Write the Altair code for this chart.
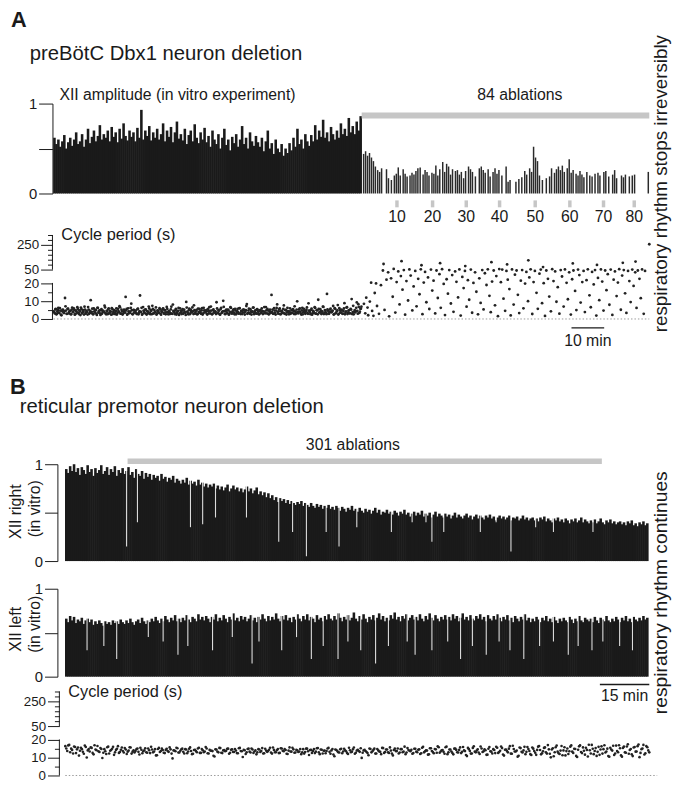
import altair as alt
import pandas as pd

FONT = "Liberation Sans"
INK = "#1a1a1a"
GRAY_BAR = "#c6c6c6"
OX, OY = 54, 14          # page position of the canvas origin (8px margin + padding)


def px(x):
    return x - OX


def py(y):
    return y - OY


# ---------------- Panel A data ----------------
A_domain_min = [0, 182]
A_ablation_span = [94.3, 182.3]
A_pre_amp = [
    0.62, 0.55, 0.60, 0.52, 0.58, 0.65, 0.50, 0.57, 0.62, 0.53, 0.60, 0.68, 0.55,
    0.58, 0.66, 0.52, 0.60, 0.72, 0.56, 0.63, 0.70, 0.58, 0.64, 0.76, 0.60, 0.66,
    0.62, 0.70, 0.58, 0.74, 0.63, 0.68, 0.57, 0.72, 0.61, 0.78, 0.64, 0.59, 0.70,
    0.63, 0.68, 0.58, 0.73, 0.62, 0.93, 0.60, 0.70, 0.64, 0.75, 0.59, 0.68, 0.62,
    0.72, 0.60, 0.66, 0.78, 0.58, 0.70, 0.63, 0.74, 0.57, 0.68, 0.80, 0.61, 0.66,
    0.59, 0.72, 0.55, 0.65, 0.70, 0.58, 0.77, 0.62, 0.56, 0.68, 0.60, 0.73, 0.57,
    0.64, 0.52, 0.70, 0.60, 0.55, 0.66, 0.50, 0.62, 0.72, 0.54, 0.60, 0.48, 0.63,
    0.56, 0.66, 0.52, 0.60, 0.75, 0.55, 0.62, 0.50, 0.68, 0.58, 0.53, 0.64, 0.57,
    0.52, 0.62, 0.47, 0.58, 0.70, 0.50, 0.56, 0.44, 0.60, 0.50, 0.46, 0.55, 0.42,
    0.50, 0.45, 0.56, 0.48, 0.62, 0.52, 0.72, 0.55, 0.60, 0.50, 0.66, 0.58, 0.53,
    0.65, 0.58, 0.76, 0.60, 0.70, 0.63, 0.82, 0.62, 0.68, 0.58, 0.74, 0.66, 0.60,
    0.70, 0.62, 0.78, 0.66, 0.72, 0.64, 0.84, 0.68, 0.75, 0.66, 0.80, 0.70, 0.86,
]
A_post_t = [
    94.9, 95.5, 96.1, 96.7, 97.3, 97.9, 98.5, 99.2, 99.8, 100.4, 101.9, 102.5, 103.4,
    104.3, 104.9, 105.5, 106.1, 107.0, 107.6, 108.2, 109.1, 109.7, 110.3, 110.9, 111.5,
    112.2, 113.1, 113.7, 114.3, 114.9, 115.8, 116.4, 117.0, 117.6, 118.2, 119.1, 119.7,
    120.3, 120.9, 121.5, 122.1, 123.0, 123.6, 124.2, 124.8, 125.5, 126.1, 127.0, 127.6,
    128.2, 129.1, 130.3, 130.9, 131.5, 132.1, 133.0, 133.6, 134.5, 135.1, 135.7, 136.3,
    137.2, 138.5, 139.1, 139.7, 141.5, 142.4, 143.3, 144.2, 144.8, 145.7, 146.3, 146.9,
    147.5, 148.1, 148.7, 149.6, 150.8, 151.8, 152.4, 153.3, 153.9, 154.5, 155.1, 155.7,
    156.3, 157.2, 157.8, 158.4, 159.0, 159.9, 160.5, 161.1, 161.7, 162.3, 163.2, 164.1,
    164.8, 165.7, 166.6, 167.2, 168.4, 169.0, 169.9, 171.1, 171.7, 172.3, 173.8, 174.4,
    175.0, 176.2, 177.1, 177.8, 182.0,
]
A_post_amp = [
    0.44, 0.47, 0.42, 0.45, 0.40, 0.36, 0.30, 0.26, 0.24, 0.28, 0.27, 0.17, 0.15,
    0.20, 0.22, 0.29, 0.20, 0.27, 0.22, 0.19, 0.20, 0.23, 0.21, 0.25, 0.28,
    0.29, 0.21, 0.26, 0.24, 0.20, 0.23, 0.22, 0.31, 0.20, 0.27, 0.35, 0.24,
    0.33, 0.30, 0.21, 0.27, 0.25, 0.26, 0.21, 0.24, 0.17, 0.25, 0.30, 0.27,
    0.24, 0.19, 0.28, 0.30, 0.26, 0.23, 0.27, 0.19, 0.24, 0.28, 0.22, 0.26,
    0.20, 0.30, 0.13, 0.15, 0.13, 0.16, 0.18, 0.25, 0.21, 0.28, 0.24, 0.52,
    0.40, 0.36, 0.20, 0.15, 0.17, 0.19, 0.28, 0.23, 0.27, 0.30, 0.26, 0.31,
    0.24, 0.28, 0.38, 0.23, 0.26, 0.22, 0.20, 0.25, 0.21, 0.18, 0.24, 0.20,
    0.19, 0.22, 0.23, 0.20, 0.24, 0.25, 0.19, 0.21, 0.26, 0.17, 0.20, 0.18,
    0.21, 0.19, 0.20, 0.21, 0.24,
]
A_ablation_tick_t = [105.1, 116.0, 126.3, 136.5, 147.4, 158.0, 168.3, 177.7]
A_ablation_tick_lab = ["10", "20", "30", "40", "50", "60", "70", "80"]

A_pre_period = [
    4.2, 3.1, 5.6, 2.8, 4.9, 3.6, 6.1, 2.4, 4.4, 5.2, 3.3, 11.8, 4.7, 2.9, 5.8, 3.9, 4.5, 2.6, 6.4, 3.8,
    5.1, 2.7, 4.3, 6.6, 3.4, 4.8, 2.2, 5.5, 3.7, 4.1, 6.9, 3.0, 4.6, 2.5, 5.3, 3.5, 10.6, 4.0, 2.8, 5.9,
    3.6, 4.9, 2.3, 6.2, 4.4, 3.2, 5.0, 2.9, 4.7, 3.8, 6.5, 2.6, 4.2, 5.4, 3.1, 4.6, 2.4, 5.7, 3.9, 4.8,
    2.7, 6.0, 3.4, 4.5, 7.2, 3.0, 5.2, 2.5, 4.1, 3.7, 12.4, 5.6, 2.9, 4.3, 3.3, 6.3, 4.9, 2.6, 5.1, 3.6,
    4.7, 2.8, 5.8, 3.5, 13.2, 4.0, 2.4, 6.7, 3.9, 5.3, 2.9, 4.4, 3.2, 5.9, 2.7, 4.6, 7.4, 3.1, 5.0, 3.8,
    2.5, 4.8, 3.6, 6.1, 2.9, 4.2, 5.5, 3.3, 4.9, 2.6, 6.8, 3.7, 4.5, 2.8, 5.4, 3.0, 8.1, 4.3, 2.7, 5.7,
    3.4, 4.6, 2.3, 6.0, 3.9, 4.7, 2.9, 5.2, 3.5, 9.6, 4.1, 2.6, 5.8, 3.2, 4.4, 6.5, 2.8, 4.9, 3.6, 5.1,
    2.7, 4.0, 5.6, 3.3, 4.8, 2.5, 6.3, 3.8, 4.2, 2.9, 5.5, 3.1, 4.6, 7.0, 2.6, 5.0, 3.7, 4.3, 2.8, 5.9,
    3.5, 4.7, 2.4, 6.2, 3.9, 10.2, 4.4, 2.7, 5.3, 3.2, 4.9, 2.9, 6.6, 3.6, 4.1, 5.4, 2.6, 4.8, 3.4, 5.7,
    3.0, 6.1, 2.8, 4.5, 3.7, 5.2, 2.5, 4.9, 8.4, 3.3, 5.8, 2.9, 4.2, 3.8, 6.4, 2.7, 4.6, 3.1, 5.5, 4.0,
    2.6, 5.0, 3.6, 4.4, 2.9, 6.7, 3.2, 4.8, 5.6, 2.8, 4.1, 3.5, 13.5, 5.3, 3.0, 4.7, 2.5, 6.2, 3.9, 4.3,
    5.9, 2.7, 4.6, 3.4, 7.6, 2.9, 5.1, 3.7, 4.4, 2.6, 6.0, 3.3, 4.9, 5.5, 2.8, 4.2, 3.6, 9.9, 3.1, 5.4,
    4.0, 2.5, 6.3, 3.8, 4.7, 2.9, 5.2, 3.4, 8.8, 4.5, 2.7, 5.8, 3.2, 4.1, 6.6, 3.0, 4.9, 2.6, 5.6, 3.9,
    4.4, 3.1, 6.9, 2.8, 5.0, 3.6, 14.1, 4.6, 2.9, 5.3, 3.8, 4.2, 7.3, 2.7, 5.7, 3.3, 4.8, 2.5, 6.1, 3.7,
    5.2, 2.9, 4.5, 8.9, 3.5, 6.4, 2.8, 4.7, 3.2, 5.6, 11.2, 3.9, 2.6, 5.0, 4.3, 9.3, 3.0, 6.8, 4.1, 5.8,
]
A_pre_period_b = [
    3.8, 5.4, 2.6, 4.1, 6.2, 3.3, 4.7, 2.1, 5.0, 3.6, 4.4, 7.1, 2.9, 5.7, 3.2, 4.6, 2.7, 5.2, 3.9, 6.0,
    2.4, 4.8, 3.5, 5.6, 2.8, 4.2, 6.4, 3.1, 4.9, 2.5, 5.3, 3.7, 4.0, 6.7, 2.9, 4.5, 3.4, 5.8, 2.6, 4.3,
    5.1, 3.0, 6.3, 3.6, 4.8, 2.3, 5.5, 3.9, 4.2, 7.5, 3.2, 4.6, 2.7, 5.9, 3.5, 4.0, 6.1, 2.8, 4.9, 3.3,
    4.5, 2.5, 5.7, 3.8, 6.6, 3.0, 4.3, 2.9, 5.2, 3.6, 4.8, 2.4, 6.0, 3.4, 4.1, 8.6, 2.8, 5.0, 3.7, 4.6,
    3.1, 5.5, 2.6, 4.4, 3.9, 6.3, 2.9, 4.7, 3.3, 5.4, 2.5, 4.2, 7.0, 3.6, 4.9, 2.7, 5.6, 3.2, 4.0, 6.5,
    2.8, 4.6, 3.5, 5.3, 2.4, 4.1, 6.0, 3.0, 4.8, 3.7, 5.7, 2.6, 4.3, 3.3, 6.9, 2.9, 4.5, 3.8, 5.1, 2.5,
    4.4, 6.2, 3.1, 4.7, 2.8, 5.5, 3.6, 4.0, 2.3, 6.4, 3.4, 4.9, 2.7, 5.2, 3.9, 4.3, 7.7, 3.0, 4.6, 2.6,
    5.8, 3.5, 4.2, 2.9, 6.1, 3.2, 4.8, 3.8, 5.0, 2.5, 4.4, 6.6, 3.1, 4.7, 2.8, 5.4, 3.6, 4.1, 9.4, 3.3,
    4.9, 2.7, 5.6, 3.4, 4.3, 6.8, 2.9, 4.6, 3.7, 5.2, 2.4, 4.0, 6.2, 3.0, 4.8, 3.5, 5.7, 2.6, 4.4, 3.9,
    6.0, 3.2, 4.5, 2.8, 5.3, 3.6, 4.1, 7.3, 2.9, 4.7, 3.3, 5.5, 2.5, 4.2, 6.4, 3.8, 4.9, 3.0, 5.1, 2.7,
    4.6, 3.4, 5.9, 2.8, 4.3, 3.7, 6.7, 3.1, 4.8, 2.6, 5.2, 3.5, 4.0, 2.9, 6.1, 3.3, 4.7, 8.2, 3.0, 5.4,
    2.7, 4.4, 3.8, 5.6, 3.1, 4.9, 2.5, 6.3, 3.6, 4.2, 2.9, 5.0, 3.4, 4.6, 7.1, 2.8, 5.3, 3.9, 4.1, 6.0,
    3.2, 4.8, 2.6, 5.7, 3.5, 4.3, 6.5, 2.9, 4.7, 3.7, 5.1, 2.4, 4.5, 3.3, 6.2, 3.0, 4.9, 10.8, 3.6, 5.5,
    2.8, 4.2, 6.8, 3.4, 4.6, 2.7, 5.4, 3.1, 4.0, 5.8, 3.8, 4.7, 2.5, 6.1, 3.3, 4.4, 7.8, 2.9, 5.0, 3.6,
    4.8, 3.0, 5.9, 2.6, 4.3, 6.6, 3.5, 4.9, 3.2, 5.3, 2.8, 7.4, 4.1, 3.7, 6.3, 4.6, 8.3, 3.4, 5.7, 6.9,
]
A_post_period_t = [
    95.0, 95.4, 95.7, 96.1, 96.3, 96.8, 97.2, 97.5, 97.9, 98.3, 98.7, 99.0, 99.6, 100.2, 100.8,
    101.3, 101.9, 102.4, 102.7, 103.3, 103.8, 104.1, 104.6, 105.0, 105.5, 105.9, 106.3, 106.8,
    107.2, 107.6, 108.0, 108.5, 108.9, 109.3, 109.8, 110.2, 110.7, 111.1, 111.6, 112.0, 112.4,
    112.9, 113.3, 113.7, 114.1, 114.6, 115.0, 115.5, 115.9, 116.3, 116.8, 117.2, 117.6, 118.1,
    118.5, 118.9, 119.4, 119.8, 120.3, 120.7, 121.1, 121.6, 122.0, 122.4, 122.9, 123.3, 123.8,
    124.2, 124.6, 125.1, 125.5, 125.9, 126.4, 126.8, 127.2, 127.7, 128.1, 128.5, 129.0, 129.4,
    129.9, 130.3, 130.7, 131.2, 131.6, 132.0, 132.5, 132.9, 133.4, 133.8, 134.2, 134.7, 135.1,
    135.5, 136.0, 136.4, 136.9, 137.3, 137.7, 138.2, 138.6, 139.0, 139.5, 139.9, 140.3, 140.8,
    141.2, 141.7, 142.1, 142.5, 143.0, 143.4, 143.8, 144.3, 144.7, 145.2, 145.6, 146.0, 146.5,
    146.9, 147.3, 147.8, 148.2, 148.7, 149.1, 149.5, 150.0, 150.4, 150.8, 151.3, 151.7, 152.2,
    152.6, 153.0, 153.5, 153.9, 154.3, 154.8, 155.2, 155.6, 156.1, 156.5, 157.0, 157.4, 157.8,
    158.3, 158.7, 159.1, 159.6, 160.0, 160.5, 160.9, 161.3, 161.8, 162.2, 162.6, 163.1, 163.5,
    164.0, 164.4, 164.8, 165.3, 165.7, 166.1, 166.6, 167.0, 167.5, 167.9, 168.3, 168.8, 169.2,
    169.6, 170.1, 170.5, 171.0, 171.4, 171.8, 172.3, 172.7, 173.1, 173.6, 174.0, 174.5, 174.9,
    175.3, 175.8, 176.2, 176.6, 177.1, 177.5, 178.0, 178.4, 178.8, 179.3, 179.7, 180.1, 180.6,
    181.0,
    101.0, 106.5, 112.6, 118.3, 126.0, 134.0, 138.8, 145.3, 149.8, 158.9, 166.3, 174.2, 178.1,
    182.3,
]
A_post_period = [
    8.5, 3.2, 12.0, 6.4, 2.1, 9.8, 21.5, 4.5, 1.8, 14.6, 20.0, 7.3, 2.9, 19.0, 48,
    5.1, 28, 44, 1.5, 31, 12.5, 55, 3.6, 23, 46, 8.2, 36, 16.5,
    49, 2.4, 25, 10.4, 51, 37, 4.8, 18.3, 47, 7.1, 30, 13.9, 52,
    2.7, 21.8, 45, 9.4, 33, 5.6, 50, 16.0, 26, 3.1, 48, 11.8, 40,
    6.3, 53, 19.7, 2.2, 29, 14.2, 49, 8.7, 38, 4.0, 46, 23.5, 12.1,
    51, 1.9, 34, 17.4, 47, 6.9, 27, 10.8, 50, 3.5, 21.0, 44, 15.3,
    2.6, 31, 9.0, 49, 5.4, 42, 19.1, 52, 13.0, 3.8, 24, 48, 7.7,
    36, 1.6, 54, 22.6, 50, 11.4, 4.6, 47, 28, 16.8, 2.0, 51, 8.1,
    39, 48, 13.6, 3.3, 26, 49, 6.0, 19.9, 45, 10.0, 33, 52, 2.8,
    23, 47, 14.7, 5.7, 41, 50, 8.9, 20.4, 1.7, 48, 30, 12.6, 4.3,
    53, 25, 46, 9.7, 17.9, 3.0, 49, 35, 7.0, 51, 21.2, 11.1, 44,
    2.5, 29, 48, 15.8, 5.0, 50, 38, 9.2, 22.9, 47, 3.9, 27, 52,
    13.3, 6.6, 45, 19.4, 49, 1.9, 32, 10.6, 51, 24, 4.7, 48, 16.2,
    40, 8.0, 50, 2.3, 28, 46, 12.9, 21.7, 53, 5.2, 37, 49, 14.4,
    3.4, 47, 25, 9.5, 50, 18.6, 44, 6.2, 48, 30, 11.7, 51, 2.9,
    47,
    95, 118, 85, 102, 78, 110, 92, 125, 70, 100, 88, 105, 115,
    255,
]

# ---------------- Panel B data ----------------
B_domain_min = [0, 177]
B_ablation_span = [18.9, 162.9]
B_right_amp = [
    0.95, 0.91, 0.98, 0.93, 1.00, 0.92, 0.96, 0.89, 0.97, 0.94, 0.90, 0.99, 0.92, 0.95, 0.88,
    0.96, 0.91, 0.94, 0.99, 0.90, 0.93, 0.97, 0.89, 0.95, 0.92, 0.98, 0.88, 0.94, 0.91, 0.96,
    0.90, 0.93, 0.97, 0.89, 0.92, 0.86, 0.95, 0.90, 0.88, 0.93, 0.85, 0.91, 0.87, 0.90, 0.84,
    0.89, 0.86, 0.88, 0.83, 0.90, 0.85, 0.87, 0.82, 0.86, 0.84, 0.88, 0.81, 0.85, 0.83, 0.80,
    0.84, 0.81, 0.86, 0.79, 0.83, 0.80, 0.82, 0.78, 0.84, 0.79, 0.81, 0.77, 0.80, 0.76, 0.79,
    0.77, 0.80, 0.75, 0.78, 0.74, 0.77, 0.73, 0.76, 0.79, 0.72, 0.75, 0.78, 0.74, 0.76, 0.72,
    0.75, 0.71, 0.74, 0.77, 0.72, 0.75, 0.70, 0.73, 0.76, 0.69, 0.72, 0.68, 0.71, 0.66, 0.70,
    0.65, 0.68, 0.63, 0.66, 0.61, 0.65, 0.62, 0.64, 0.60, 0.63, 0.59, 0.62, 0.60, 0.58, 0.61,
    0.59, 0.62, 0.57, 0.60, 0.58, 0.56, 0.60, 0.57, 0.55, 0.59, 0.56, 0.58, 0.54, 0.57, 0.55,
    0.58, 0.54, 0.56, 0.53, 0.57, 0.55, 0.52, 0.56, 0.54, 0.51, 0.55, 0.53, 0.57, 0.52, 0.54,
    0.51, 0.55, 0.52, 0.50, 0.54, 0.51, 0.53, 0.49, 0.52, 0.55, 0.50, 0.53, 0.48, 0.51, 0.50,
    0.53, 0.49, 0.51, 0.48, 0.52, 0.50, 0.47, 0.51, 0.49, 0.53, 0.48, 0.50, 0.46, 0.49, 0.51,
    0.47, 0.50, 0.48, 0.52, 0.46, 0.49, 0.47, 0.50, 0.45, 0.48, 0.51, 0.46, 0.49, 0.47, 0.45,
    0.49, 0.46, 0.48, 0.44, 0.47, 0.50, 0.45, 0.48, 0.46, 0.44, 0.47, 0.49, 0.45, 0.47, 0.43,
    0.46, 0.48, 0.44, 0.47, 0.45, 0.43, 0.47, 0.45, 0.48, 0.44, 0.46, 0.42, 0.45, 0.47, 0.44,
    0.46, 0.43, 0.45, 0.47, 0.42, 0.45, 0.44, 0.46, 0.42, 0.44, 0.47, 0.43, 0.45, 0.42, 0.44,
    0.45, 0.42, 0.44, 0.41, 0.45, 0.43, 0.46, 0.41, 0.44, 0.42, 0.40, 0.44, 0.42, 0.45, 0.41,
    0.43, 0.40, 0.44, 0.42, 0.39, 0.43, 0.41, 0.44, 0.40, 0.42, 0.45, 0.40, 0.43, 0.41, 0.39,
    0.42, 0.40, 0.43, 0.39, 0.41, 0.44, 0.40, 0.38, 0.42, 0.40, 0.43, 0.39, 0.41, 0.38, 0.40,
    0.41, 0.38, 0.40, 0.37, 0.41, 0.39, 0.42, 0.37, 0.39, 0.36, 0.40, 0.38, 0.41, 0.37, 0.39,
]
# weak single cycles (thin gaps in the dense trace)
B_right_dip_t = [18.6, 21.9, 38.0, 41.7, 45.6, 55.0, 64.8, 69.0, 73.2, 79.2, 83.1, 88.5,
                 99.0, 105.3, 109.5, 111.3, 114.9, 126.0, 130.8, 135.3, 142.8, 148.2, 160.2]
B_right_dip_amp = [0.15, 0.40, 0.35, 0.38, 0.45, 0.45, 0.20, 0.30, 0.05, 0.30, 0.15, 0.35,
                   0.30, 0.40, 0.40, 0.20, 0.30, 0.30, 0.40, 0.10, 0.35, 0.30, 0.30]
B_left_amp = [
    0.66, 0.62, 0.69, 0.64, 0.68, 0.61, 0.65, 0.63, 0.67, 0.60, 0.64, 0.66, 0.62, 0.65, 0.59,
    0.63, 0.60, 0.64, 0.61, 0.58, 0.63, 0.60, 0.62, 0.59, 0.64, 0.61, 0.63, 0.60, 0.65, 0.62,
    0.60, 0.64, 0.61, 0.66, 0.62, 0.59, 0.63, 0.65, 0.61, 0.67, 0.63, 0.60, 0.64, 0.62, 0.66,
    0.63, 0.68, 0.64, 0.61, 0.66, 0.63, 0.69, 0.65, 0.62, 0.67, 0.64, 0.70, 0.63, 0.66, 0.62,
    0.67, 0.64, 0.70, 0.65, 0.62, 0.68, 0.66, 0.63, 0.71, 0.65, 0.68, 0.64, 0.69, 0.66, 0.62,
    0.68, 0.65, 0.71, 0.63, 0.67, 0.64, 0.70, 0.66, 0.62, 0.68, 0.65, 0.72, 0.64, 0.67, 0.63,
    0.69, 0.65, 0.68, 0.63, 0.66, 0.70, 0.64, 0.67, 0.62, 0.68, 0.65, 0.71, 0.66, 0.63, 0.69,
    0.64, 0.68, 0.65, 0.72, 0.66, 0.63, 0.69, 0.65, 0.70, 0.64, 0.67, 0.62, 0.68, 0.65, 0.71,
    0.66, 0.63, 0.69, 0.65, 0.71, 0.64, 0.68, 0.66, 0.62, 0.70, 0.65, 0.67, 0.63, 0.69, 0.65,
    0.71, 0.66, 0.64, 0.69, 0.65, 0.72, 0.67, 0.63, 0.68, 0.65, 0.70, 0.64, 0.67, 0.73, 0.66,
    0.63, 0.69, 0.65, 0.71, 0.66, 0.62, 0.68, 0.65, 0.70, 0.64, 0.67, 0.72, 0.65, 0.69, 0.63,
    0.67, 0.64, 0.70, 0.66, 0.73, 0.65, 0.68, 0.63, 0.69, 0.66, 0.71, 0.64, 0.67, 0.70, 0.65,
    0.68, 0.64, 0.71, 0.66, 0.63, 0.69, 0.65, 0.72, 0.67, 0.64, 0.70, 0.66, 0.63, 0.68, 0.65,
    0.70, 0.65, 0.68, 0.64, 0.71, 0.66, 0.69, 0.63, 0.67, 0.72, 0.65, 0.68, 0.64, 0.70, 0.66,
    0.64, 0.69, 0.66, 0.71, 0.65, 0.68, 0.63, 0.70, 0.66, 0.64, 0.69, 0.65, 0.71, 0.67, 0.63,
    0.68, 0.65, 0.70, 0.64, 0.67, 0.62, 0.69, 0.66, 0.63, 0.68, 0.65, 0.71, 0.64, 0.67, 0.62,
    0.66, 0.63, 0.68, 0.65, 0.62, 0.67, 0.64, 0.69, 0.63, 0.66, 0.62, 0.68, 0.64, 0.61, 0.66,
    0.63, 0.67, 0.64, 0.62, 0.68, 0.65, 0.61, 0.66, 0.63, 0.69, 0.64, 0.62, 0.67, 0.65, 0.63,
    0.66, 0.62, 0.68, 0.64, 0.61, 0.67, 0.65, 0.63, 0.69, 0.64, 0.62, 0.66, 0.63, 0.68, 0.65,
    0.62, 0.67, 0.64, 0.69, 0.63, 0.66, 0.62, 0.68, 0.65, 0.63, 0.67, 0.64, 0.69, 0.65, 0.67,
]
B_left_dip_t = [6.6, 11.7, 15.6, 25.2, 29.7, 34.2, 37.2, 44.7, 50.7, 56.7, 58.8, 65.7, 70.2,
                74.7, 78.3, 82.8, 85.8, 89.7, 94.2, 98.1, 103.8, 106.2, 111.3, 116.1, 120.0,
                123.6, 127.8, 131.7, 135.0, 139.2, 144.0, 148.2, 152.7, 155.7, 159.9, 163.2,
                168.3, 172.2]
B_left_dip_amp = [0.30, 0.35, 0.20, 0.45, 0.40, 0.25, 0.35, 0.30, 0.45, 0.15, 0.40, 0.30, 0.45,
                  0.20, 0.35, 0.20, 0.40, 0.30, 0.15, 0.35, 0.40, 0.25, 0.30, 0.40, 0.20,
                  0.35, 0.25, 0.40, 0.30, 0.20, 0.35, 0.40, 0.25, 0.35, 0.30, 0.40,
                  0.35, 0.30]
B_period = [
    16.5, 13.8, 17.2, 15.1, 12.4, 16.0, 14.7, 11.2, 15.6, 13.3, 16.8, 10.1, 14.9, 15.8, 12.7, 17.0, 14.2, 13.6, 15.4, 9.8,
    14.8, 12.1, 16.2, 13.9, 15.0, 11.6, 14.4, 16.5, 13.2, 15.7, 12.9, 14.6, 13.4, 15.9, 12.3, 14.1, 13.7, 15.2, 11.8, 14.5,
    13.6, 15.3, 12.8, 14.2, 16.1, 13.0, 14.8, 11.4, 15.5, 13.8, 14.3, 12.6, 15.0, 13.3, 14.7, 9.6, 14.0, 15.6, 12.9, 13.9,
    15.1, 12.4, 14.6, 13.5, 15.8, 12.0, 14.3, 13.7, 15.2, 12.7, 14.9, 13.1, 16.0, 12.5, 14.4, 13.9, 11.1, 14.7, 13.4, 15.5,
    12.8, 14.1, 13.6, 15.0, 12.2, 14.5, 13.3, 14.9, 12.6, 15.3, 13.8, 10.4, 14.2, 13.0, 15.1, 12.9, 14.6, 13.5, 11.9, 14.8,
    13.2, 15.4, 12.5, 14.0, 13.7, 15.6, 12.3, 14.4, 13.1, 14.9, 12.7, 15.2, 13.6, 14.3, 12.1, 15.8, 13.4, 14.7, 12.9, 14.1,
    13.5, 12.0, 14.8, 13.2, 15.1, 11.5, 14.4, 13.8, 12.6, 15.3, 13.0, 14.6, 12.4, 14.0, 13.7, 15.5, 12.2, 14.9, 10.8, 14.3,
    13.1, 14.7, 12.5, 15.0, 13.6, 12.1, 14.2, 13.4, 15.7, 12.8, 14.5, 13.3, 9.9, 14.1, 13.8, 12.6, 15.2, 13.0, 14.4, 12.3,
    14.9, 13.5, 12.0, 15.4, 13.2, 14.6, 12.7, 14.0, 11.3, 15.1, 13.7, 12.4, 14.8, 13.1, 16.2, 12.9, 14.3, 13.6, 12.2, 15.0,
    13.4, 14.5, 12.1, 15.6, 13.0, 14.2, 11.7, 15.3, 13.8, 12.5, 14.7, 16.4, 12.8, 14.1, 13.3, 15.9, 12.0, 14.6, 13.5, 11.9,
    15.2, 13.1, 14.4, 12.6, 16.0, 13.7, 10.9, 14.8, 12.3, 15.5, 13.4, 14.0, 12.9, 16.3, 13.2, 14.7, 11.6, 15.0, 13.6, 12.4,
    14.3, 16.1, 12.7, 13.9, 15.4, 11.2, 14.6, 13.0, 16.5, 12.2, 14.9, 13.5, 10.6, 15.7, 13.3, 14.1, 12.0, 16.0, 13.8, 11.5,
    15.1, 12.8, 14.4, 16.6, 11.9, 13.6, 15.8, 12.3, 14.7, 10.2, 15.3, 13.1, 16.8, 12.5, 14.0, 11.4, 15.9, 13.7, 12.1, 16.2,
    13.4, 15.0, 11.0, 14.5, 16.9, 12.6, 13.9, 15.6, 10.7, 14.2, 17.2, 12.0, 15.4, 13.3, 11.6, 16.4, 14.8, 12.9, 15.1, 10.5,
    14.6, 16.7, 12.4, 13.8, 17.0, 11.3, 15.5, 13.0, 16.3, 12.2, 14.9, 10.9, 16.0, 13.5, 17.4, 12.7, 15.2, 11.8, 16.5, 14.1,
]
B_period_b = [
    15.2, 16.9, 13.1, 14.4, 16.3, 12.6, 15.7, 13.9, 14.8, 12.2, 16.0, 14.1, 13.5, 15.5, 11.9, 14.6, 16.6, 13.2, 14.9, 12.8,
    13.6, 15.9, 12.4, 14.3, 16.1, 13.0, 15.0, 12.7, 14.5, 13.8, 15.4, 12.1, 14.0, 15.7, 13.4, 12.9, 14.8, 13.3, 15.6, 12.5,
    14.2, 13.1, 15.2, 12.6, 14.6, 13.5, 11.3, 14.9, 13.2, 15.1, 12.8, 14.4, 13.7, 15.8, 12.3, 14.1, 13.6, 15.3, 12.9, 14.7,
    13.3, 14.8, 12.5, 15.0, 13.8, 12.2, 14.5, 13.1, 15.6, 12.7, 14.2, 13.5, 15.2, 12.4, 14.0, 13.7, 10.7, 14.6, 13.0, 15.4,
    12.6, 14.3, 13.9, 15.1, 12.8, 14.7, 13.2, 14.0, 12.5, 15.5, 13.6, 14.4, 12.1, 14.9, 13.4, 15.2, 12.7, 14.1, 13.0, 14.6,
    13.8, 12.4, 15.0, 13.3, 14.5, 12.9, 15.7, 13.1, 14.2, 12.6, 15.3, 13.9, 14.8, 12.2, 14.0, 13.5, 15.6, 12.8, 14.4, 13.2,
    14.9, 13.0, 12.3, 15.1, 13.6, 14.3, 12.7, 14.8, 13.4, 15.4, 12.0, 14.5, 13.9, 12.5, 15.2, 13.3, 14.1, 11.8, 14.6, 13.7,
    12.9, 15.0, 13.5, 14.2, 12.6, 15.6, 13.1, 14.7, 12.2, 14.0, 13.8, 15.3, 12.8, 14.4, 13.2, 11.4, 14.9, 13.6, 15.1, 12.4,
    14.1, 13.3, 15.5, 12.7, 14.6, 13.0, 15.8, 12.3, 14.3, 13.7, 15.2, 12.9, 14.8, 13.4, 12.0, 15.4, 13.9, 14.5, 12.6, 15.0,
    13.1, 14.7, 12.5, 16.1, 13.6, 14.0, 11.9, 15.3, 13.2, 14.9, 12.8, 15.9, 13.5, 14.3, 12.2, 16.2, 13.0, 14.6, 12.7, 15.1,
    14.4, 12.9, 15.8, 13.3, 14.1, 11.5, 15.5, 13.8, 12.4, 16.4, 13.0, 14.7, 12.1, 15.2, 13.6, 14.2, 11.7, 16.0, 13.4, 14.8,
    12.6, 15.6, 13.2, 16.3, 11.8, 14.5, 13.7, 15.1, 12.3, 16.7, 13.5, 14.0, 11.1, 15.4, 12.9, 16.1, 13.3, 14.9, 12.0, 15.7,
    13.8, 11.6, 16.2, 14.3, 12.5, 15.5, 13.0, 17.1, 12.2, 14.6, 10.8, 15.9, 13.4, 12.1, 16.6, 14.1, 11.3, 15.2, 13.6, 16.9,
    12.7, 14.9, 10.4, 16.4, 13.2, 15.8, 11.7, 14.4, 17.3, 12.4, 15.0, 13.8, 11.0, 16.1, 14.6, 12.3, 17.0, 13.5, 10.9, 15.6,
    14.0, 11.5, 16.8, 13.1, 15.3, 10.6, 16.2, 12.8, 17.5, 14.3, 11.9, 15.7, 13.4, 16.5, 10.3, 14.8, 17.2, 12.5, 15.9, 13.0,
]

# cycle-period broken axis: tick values (s)
period_major = [0, 10, 20, 50, 250]
period_minor = [5, 15, 90, 130, 170, 210, 290, 330]
period_lower_seg = [0, 21]
period_upper_seg = [50, 330]


def disp(v):
    """broken-axis display coordinate (same rule as the Vega expression)"""
    if v <= 20:
        return v * 1.8
    if v <= 50:
        return 36 + (v - 20) * 14 / 30
    return 50 + (v - 50) * 0.125


def disp_expr(f):
    return (f"datum.{f} <= 20 ? datum.{f} * 1.8 : (datum.{f} <= 50 ? 36 + (datum.{f} - 20) * 14 / 30"
            f" : 50 + (datum.{f} - 50) * 0.125)")


# ---------------- tables ----------------
nA = len(A_pre_amp)
stepA = A_ablation_span[0] / nA
dfA_pre = pd.DataFrame({"t": [(i + 0.5) * stepA for i in range(nA)], "amp": A_pre_amp})
dfA_post = pd.DataFrame({"t": A_post_t, "amp": A_post_amp})
nP = len(A_pre_period)
stepP = A_ablation_span[0] / nP
dfA_per = pd.DataFrame({
    "t": [(i + 0.25) * stepP for i in range(nP)] + [(i + 0.75) * stepP for i in range(len(A_pre_period_b))]
         + A_post_period_t,
    "v": A_pre_period + A_pre_period_b + A_post_period,
})
nB = len(B_right_amp)
stepB = B_domain_min[1] / nB
dfB_r = pd.DataFrame({"t": [(i + 0.5) * stepB for i in range(nB)], "amp": B_right_amp})
dfB_l = pd.DataFrame({"t": [(i + 0.5) * stepB for i in range(len(B_left_amp))], "amp": B_left_amp})
dfB_rd = pd.DataFrame({"t": B_right_dip_t, "amp": B_right_dip_amp, "top": [1.0] * len(B_right_dip_t)})
dfB_ld = pd.DataFrame({"t": B_left_dip_t, "amp": B_left_dip_amp, "top": [1.0] * len(B_left_dip_t)})
nBp = len(B_period)
sBp = B_domain_min[1] / (nBp - 1)
dfB_per = pd.DataFrame({"t": [i * sBp for i in range(nBp)] + [(i + 0.5) * sBp for i in range(len(B_period_b))],
                        "v": B_period + B_period_b})
df_segs = pd.DataFrame({"v": [period_lower_seg[0], period_upper_seg[0]],
                        "v2": [period_lower_seg[1], period_upper_seg[1]]})

# ---------------- scales (pixel ranges inside one canvas) ----------------
xA = alt.Scale(domain=A_domain_min, range=[px(54), px(656)], nice=False)
xB = alt.Scale(domain=B_domain_min, range=[px(66), px(656)], nice=False)
yAamp = alt.Scale(domain=[0, 1], range=[py(191), py(100)], nice=False)
yAper = alt.Scale(domain=[0, 90], range=[py(318), py(228)], nice=False)
yBr = alt.Scale(domain=[0, 1], range=[py(563), py(465)], nice=False)
yBl = alt.Scale(domain=[0, 1], range=[py(680), py(591)], nice=False)
yBp = alt.Scale(domain=[0, 90], range=[py(780), py(690)], nice=False)

axis_style = dict(orient="left", grid=False, title=None, labelFont=FONT, labelColor=INK,
                  tickColor=INK, domainColor=INK, tickWidth=1, domainWidth=1, labelPadding=2)


def amp_axis(offset, ticksize):
    return alt.Axis(values=[0, 0.5, 1],
                    labelExpr="datum.value == 1 ? '1' : (datum.value == 0 ? '0' : '')",
                    tickSize=ticksize, offset=offset, labelFontSize=15, **axis_style)


major_expr = " : ".join(f"datum.value == {disp(v)} ? '{v}'" for v in period_major) + " : ''"


def per_major_axis(offset):
    return alt.Axis(values=[disp(v) for v in period_major], labelExpr=major_expr,
                    tickSize=12, domain=False, offset=offset, labelFontSize=13.5, **axis_style)


def per_minor_axis(offset):
    return alt.Axis(values=[disp(v) for v in period_minor], labels=False,
                    tickSize=5, domain=False, offset=offset, **axis_style)


def label(text, x, y, size=16, weight="normal", align="left", angle=0):
    return alt.Chart(pd.DataFrame({"label": [text]})).mark_text(
        font=FONT, fontSize=size, fontWeight=weight, align=align, baseline="middle",
        angle=angle, color=INK
    ).encode(x=alt.value(px(x)), y=alt.value(py(y)), text="label:N")


layers = []

# ===== Panel A : amplitude =====
layers.append(alt.Chart(dfA_pre).mark_rule(strokeWidth=2.6, color=INK).encode(
    x=alt.X("t:Q", scale=xA, axis=None),
    y=alt.Y("amp:Q", scale=yAamp, axis=amp_axis(1, 14)),
    y2=alt.datum(0)))
layers.append(alt.Chart(dfA_post).mark_rule(strokeWidth=1.5, color="#2a2a2a").encode(
    x=alt.X("t:Q", scale=xA, axis=None),
    y=alt.Y("amp:Q", scale=yAamp, axis=None),
    y2=alt.datum(0)))
layers.append(alt.Chart(pd.DataFrame({"t": [A_ablation_span[0]], "t2": [A_ablation_span[1]], "a": [0.867]}))
              .mark_rule(strokeWidth=6, color=GRAY_BAR).encode(
    x=alt.X("t:Q", scale=xA, axis=None), x2="t2:Q",
    y=alt.Y("a:Q", scale=yAamp, axis=None)))
df_abl = pd.DataFrame({"t": A_ablation_tick_t, "lab": A_ablation_tick_lab})
layers.append(alt.Chart(df_abl).mark_rule(strokeWidth=3.5, color=GRAY_BAR).encode(
    x=alt.X("t:Q", scale=xA, axis=None), y=alt.value(py(198)), y2=alt.value(py(205))))
layers.append(alt.Chart(df_abl).mark_text(font=FONT, fontSize=16, color=INK, baseline="middle").encode(
    x=alt.X("t:Q", scale=xA, axis=None), y=alt.value(py(215)), text="lab:N"))

# ===== Panel A : cycle period =====
layers.append(alt.Chart(dfA_per).transform_calculate(d=disp_expr("v")).mark_circle(
    size=8, color="#222222", opacity=1).encode(
    x=alt.X("t:Q", scale=xA, axis=None),
    y=alt.Y("d:Q", scale=yAper, axis=per_major_axis(1))))
layers.append(alt.Chart(pd.DataFrame({"t": [0], "t2": [182.3], "d": [0]}))
              .mark_rule(strokeDash=[1.5, 2], color="#9a9a9a", strokeWidth=1).encode(
    x=alt.X("t:Q", scale=xA, axis=None), x2="t2:Q",
    y=alt.Y("d:Q", scale=yAper, axis=per_minor_axis(1))))
layers.append(alt.Chart(df_segs).transform_calculate(d=disp_expr("v"), d2=disp_expr("v2"))
              .mark_rule(color=INK, strokeWidth=1).encode(
    x=alt.value(px(53)), y=alt.Y("d:Q", scale=yAper, axis=None), y2="d2:Q"))
layers.append(alt.Chart(pd.DataFrame({"t": [158.5], "t2": [168.5]})).mark_rule(strokeWidth=1.5, color=INK).encode(
    x=alt.X("t:Q", scale=xA, axis=None), x2="t2:Q", y=alt.value(py(327))))
layers.append(alt.Chart(pd.DataFrame({"t": [163.5], "lab": ["10 min"]})).mark_text(
    font=FONT, fontSize=16, color=INK, baseline="middle").encode(
    x=alt.X("t:Q", scale=xA, axis=None), y=alt.value(py(340)), text="lab:N"))

# ===== Panel B : XII right =====
layers.append(alt.Chart(dfB_r).mark_rule(strokeWidth=2.6, color=INK).encode(
    x=alt.X("t:Q", scale=xB, axis=None),
    y=alt.Y("amp:Q", scale=yBr, axis=amp_axis(-4, 13)),
    y2=alt.datum(0)))
layers.append(alt.Chart(dfB_rd).mark_rule(strokeWidth=1.1, color="#ffffff", opacity=0.85).encode(
    x=alt.X("t:Q", scale=xB, axis=None),
    y=alt.Y("amp:Q", scale=yBr, axis=None), y2="top:Q"))
layers.append(alt.Chart(pd.DataFrame({"t": [B_ablation_span[0]], "t2": [B_ablation_span[1]], "a": [1.03]}))
              .mark_rule(strokeWidth=5.5, color=GRAY_BAR).encode(
    x=alt.X("t:Q", scale=xB, axis=None), x2="t2:Q",
    y=alt.Y("a:Q", scale=yBr, axis=None)))

# ===== Panel B : XII left =====
layers.append(alt.Chart(dfB_l).mark_rule(strokeWidth=2.6, color=INK).encode(
    x=alt.X("t:Q", scale=xB, axis=None),
    y=alt.Y("amp:Q", scale=yBl, axis=amp_axis(-4, 13)),
    y2=alt.datum(0)))
layers.append(alt.Chart(dfB_ld).mark_rule(strokeWidth=1.1, color="#ffffff", opacity=0.85).encode(
    x=alt.X("t:Q", scale=xB, axis=None),
    y=alt.Y("amp:Q", scale=yBl, axis=None), y2="top:Q"))
layers.append(alt.Chart(pd.DataFrame({"t": [162.3], "t2": [177.3]})).mark_rule(strokeWidth=1.5, color=INK).encode(
    x=alt.X("t:Q", scale=xB, axis=None), x2="t2:Q", y=alt.value(py(688))))
layers.append(alt.Chart(pd.DataFrame({"t": [169.8], "lab": ["15 min"]})).mark_text(
    font=FONT, fontSize=16, color=INK, baseline="middle").encode(
    x=alt.X("t:Q", scale=xB, axis=None), y=alt.value(py(700)), text="lab:N"))

# ===== Panel B : cycle period =====
layers.append(alt.Chart(dfB_per).transform_calculate(d=disp_expr("v")).mark_circle(
    size=7, color="#222222", opacity=1).encode(
    x=alt.X("t:Q", scale=xB, axis=None),
    y=alt.Y("d:Q", scale=yBp, axis=per_major_axis(-6))))
layers.append(alt.Chart(pd.DataFrame({"t": [0], "t2": [179.7], "d": [0]}))
              .mark_rule(strokeDash=[1.5, 2], color="#9a9a9a", strokeWidth=1).encode(
    x=alt.X("t:Q", scale=xB, axis=None), x2="t2:Q",
    y=alt.Y("d:Q", scale=yBp, axis=per_minor_axis(-6))))
layers.append(alt.Chart(df_segs).transform_calculate(d=disp_expr("v"), d2=disp_expr("v2"))
              .mark_rule(color=INK, strokeWidth=1).encode(
    x=alt.value(px(60)), y=alt.Y("d:Q", scale=yBp, axis=None), y2="d2:Q"))

# ===== text =====
layers += [
    label("A", 11, 16, size=22, weight="bold"),
    label("preBötC Dbx1 neuron deletion", 30, 50, size=20.5),
    label("XII amplitude (in vitro experiment)", 60, 91, size=16),
    label("84 ablations", 526, 91, size=16, align="center"),
    label("Cycle period (s)", 62, 233, size=16.5),
    label("respiratory rhythm stops irreversibly", 669, 181, size=19, align="center", angle=270),
    label("B", 10, 387, size=22, weight="bold"),
    label("reticular premotor neuron deletion", 20, 407, size=20.5),
    label("301 ablations", 357, 446, size=16, align="center"),
    label("XII right", 16, 513, size=16, align="center", angle=270),
    label("(in vitro)", 35, 510, size=16, align="center", angle=270),
    label("XII left", 16, 632, size=16, align="center", angle=270),
    label("(in vitro)", 35, 627, size=16, align="center", angle=270),
    label("respiratory rhythm continues", 669, 595, size=19.5, align="center", angle=270),
    label("Cycle period (s)", 69, 696, size=16.5),
]

chart = alt.layer(*layers).resolve_scale(x="independent", y="independent").properties(
    width=627, height=779,
    autosize=alt.AutoSizeParams(type="none"),
    padding={"left": 46, "top": 6, "right": 0, "bottom": 0},
).configure_view(stroke=None)

chart.save("out.html", embed_options={"renderer": "svg", "actions": False})
